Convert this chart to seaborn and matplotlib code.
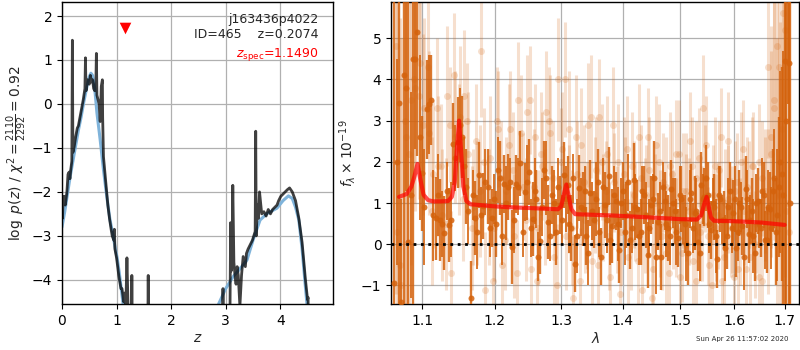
import numpy as np
import matplotlib
matplotlib.use("Agg")
import matplotlib.pyplot as plt
from matplotlib.ticker import NullLocator, FixedLocator, FixedFormatter
import seaborn as sns

# ---------------- data: left panel (redshift PDF) ----------------
pz_smooth_z = [0.0, 0.05, 0.1, 0.15, 0.2, 0.25, 0.3, 0.35, 0.4, 0.45, 0.5, 0.53, 0.56,
               0.6, 0.64, 0.7, 0.76, 0.82, 0.88, 0.93, 0.97, 1.01, 1.05, 1.09, 1.13]
pz_smooth_logp = [-2.8, -2.45, -2.05, -1.65, -1.3, -0.95, -0.6, -0.3, 0.05, 0.35, 0.62, 0.70, 0.65,
                  0.35, -0.2, -0.82, -1.5, -2.1, -2.64, -2.95, -3.24, -3.5, -3.84, -4.25, -4.65]
pz_smooth_z2 = [2.87, 3.0, 3.14, 3.26, 3.39, 3.5, 3.63, 3.75, 3.85, 3.94, 4.05, 4.15, 4.22,
                4.28, 4.34, 4.4, 4.46, 4.5]
pz_smooth_logp2 = [-4.55, -4.2, -3.92, -3.75, -3.55, -3.1, -2.64, -2.5, -2.43, -2.37, -2.2, -2.09, -2.15,
                   -2.35, -2.64, -3.3, -4.15, -4.7]

pz_z = [0.0, 0.01, 0.02, 0.035, 0.05, 0.06, 0.075, 0.09, 0.11, 0.13, 0.145, 0.16, 0.18, 0.19, 0.2,
        0.22, 0.25, 0.28, 0.3, 0.33, 0.36, 0.39, 0.42, 0.43, 0.44, 0.47, 0.5, 0.52, 0.54, 0.56,
        0.58, 0.6, 0.62, 0.63, 0.64, 0.66, 0.68, 0.7, 0.72, 0.74, 0.745, 0.76, 0.8, 0.84, 0.87,
        0.9, 0.92, 0.95, 0.96, 0.97, 1.0, 1.04, 1.08, 1.1, 1.13, 1.15, 1.17, 1.19, 1.21, 1.23,
        1.27, 1.28, 1.29, 1.57, 1.58, 1.59, 2.94, 2.95, 2.96, 3.06, 3.08, 3.09, 3.1, 3.12, 3.13,
        3.15, 3.17, 3.19, 3.21, 3.23, 3.26, 3.29, 3.32, 3.36, 3.38, 3.41, 3.45, 3.49, 3.54, 3.55,
        3.56, 3.58, 3.6, 3.62, 3.66, 3.7, 3.74, 3.78, 3.82, 3.86, 3.9, 3.94, 3.97, 4.01, 4.05,
        4.09, 4.13, 4.17, 4.22, 4.28, 4.34, 4.4, 4.46, 4.5, 4.51, 4.52]
pz_logp = [-2.1, -2.6, -2.1, -2.2, -2.1, -2.3, -2.15, -2.0, -1.6, -1.55, -1.7, -1.5, -1.3, 1.45, -1.1,
           -1.0, -0.75, -0.55, -0.5, -0.3, -0.1, 0.1, 0.35, 1.05, 0.3, 0.55, 0.45, 0.65, 0.5, 0.55,
           0.35, 0.3, 0.4, 1.15, 0.2, 0.1, 0.0, -0.4, 0.4, 0.55, -0.3, -1.2, -1.75, -2.3, -2.6,
           -2.85, -3.0, -3.1, -2.85, -3.3, -3.5, -3.9, -4.2, -4.2, -4.5, -4.3, -4.6, -3.5, -4.6, -5.5,
           -5.5, -3.9, -5.5, -5.5, -3.9, -5.5, -6.0, -4.2, -6.0, -6.0, -4.5, -2.7, -3.8, -2.9, -1.85,
           -3.6, -3.9, -4.1, -3.7, -3.9, -4.6, -3.9, -3.47, -3.7, -3.4, -3.3, -3.2, -3.1, -2.9, -0.62,
           -3.0, -2.3, -2.6, -2.0, -2.5, -2.45, -2.55, -2.4, -2.5, -2.4, -2.35, -2.3, -2.2, -2.1, -2.05,
           -2.0, -1.95, -1.91, -2.0, -2.2, -2.6, -3.15, -3.98, -4.45, -4.4, -6.0]

zspec = 1.149
zspec_marker_y = 1.72

# ---------------- data: right panel (spectrum) ----------------
lam_dark = [1.064, 1.070, 1.076, 1.082, 1.088, 1.094, 1.100, 1.106, 1.112, 1.118,
            1.124, 1.130, 1.136, 1.142, 1.148, 1.154, 1.160, 1.166, 1.172, 1.178,
            1.184, 1.190, 1.196, 1.202, 1.208, 1.214, 1.220, 1.226, 1.232, 1.238,
            1.244, 1.250, 1.256, 1.262, 1.268, 1.274, 1.280, 1.286, 1.292, 1.298,
            1.304, 1.310, 1.316, 1.322, 1.328, 1.334, 1.340, 1.346, 1.352, 1.358,
            1.364, 1.370, 1.376, 1.382, 1.388, 1.394, 1.400, 1.406, 1.412, 1.418,
            1.424, 1.430, 1.436, 1.442, 1.448, 1.454, 1.460, 1.466, 1.472, 1.478,
            1.484, 1.490, 1.496, 1.502, 1.508, 1.514, 1.520, 1.526, 1.532, 1.538,
            1.544, 1.550, 1.556, 1.562, 1.568, 1.574, 1.580, 1.586, 1.592, 1.598,
            1.604, 1.610, 1.616, 1.622, 1.628, 1.634, 1.640, 1.646, 1.652, 1.658,
            1.664, 1.670, 1.676, 1.682, 1.688, 1.694, 1.700, 1.706, 1.712]
flux_dark = [-0.95, 3.42, 4.10, 0.06, 4.49, 5.14, 1.72, 3.28, 3.50, 0.63,
             0.59, 0.27, 0.47, 2.43, 2.47, 2.61, 1.40, -1.31, 0.63, 1.68,
             0.92, 1.40, 0.63, 0.49, 1.60, 1.47, 1.40, -0.06, 1.47, 1.96,
             1.27, 1.75, 0.62, 1.10, 0.08, 1.81, 0.55, 1.20, 0.30, 0.95,
             1.68, 1.44, 0.40, -0.47, 1.36, 0.85, 0.20, 1.25, 0.60, 1.50,
             -0.30, 0.95, 1.65, 0.45, 1.05, -0.15, 1.30, 0.70, 0.10, 1.55,
             0.85, 0.30, 1.20, -0.25, 0.95, 1.60, 0.55, -0.30, 1.05, 0.40,
             1.35, 0.80, 0.15, 1.10, 0.50, -0.20, 1.25, 0.75, 0.05, 1.45,
             1.15, 1.20, 0.35, 0.90, -0.35, 1.10, 0.60, 0.20, 1.30, 0.75,
             -0.10, 1.00, 0.45, 1.35, 0.25, 0.80, -0.20, 1.05, 0.40, 1.20,
             0.10, 0.85, 1.30, 0.30, 1.40, 1.70, 4.45, 9.00, 1.00]
err_dark = [9.0, 9.0, 9.0, 9.0, 9.0, 3.0, 1.4, 1.2, 1.1, 1.0,
            1.0, 0.9, 0.9, 1.0, 1.1, 1.0, 0.9, 0.9, 0.9, 0.8,
            0.8, 0.9, 0.7, 0.8, 0.9, 0.7, 0.8, 0.9, 0.7, 0.8,
            0.7, 0.8, 0.9, 0.7, 0.8, 0.7, 0.9, 0.7, 0.8, 0.7,
            0.8, 0.7, 0.8, 0.7, 0.8, 0.9, 0.7, 0.8, 0.7, 0.8,
            0.7, 0.8, 0.7, 0.9, 0.7, 0.8, 0.7, 0.8, 0.7, 0.9,
            0.7, 0.8, 0.7, 0.8, 0.7, 0.9, 0.7, 0.8, 0.7, 0.8,
            0.7, 0.8, 0.7, 0.8, 0.7, 0.8, 0.7, 0.9, 0.7, 0.8,
            0.7, 0.8, 0.7, 0.8, 0.7, 0.8, 0.7, 0.8, 0.7, 0.8,
            0.7, 0.8, 0.7, 0.8, 0.7, 0.8, 0.7, 0.8, 0.7, 0.8,
            0.8, 0.9, 1.0, 1.3, 1.7, 2.6, 9.0, 5.6, 9.0]

lam_dark2 = [1.067, 1.073, 1.079, 1.085, 1.091, 1.097, 1.103, 1.109, 1.115, 1.121,
             1.127, 1.133, 1.139, 1.145, 1.151, 1.157, 1.163, 1.169, 1.175, 1.181,
             1.187, 1.193, 1.199, 1.205, 1.211, 1.217, 1.223, 1.229, 1.235, 1.241,
             1.247, 1.253, 1.259, 1.265, 1.271, 1.277, 1.283, 1.289, 1.295, 1.301,
             1.307, 1.313, 1.319, 1.325, 1.331, 1.337, 1.343, 1.349, 1.355, 1.361,
             1.367, 1.373, 1.379, 1.385, 1.391, 1.397, 1.403, 1.409, 1.415, 1.421,
             1.427, 1.433, 1.439, 1.445, 1.451, 1.457, 1.463, 1.469, 1.475, 1.481,
             1.487, 1.493, 1.499, 1.505, 1.511, 1.517, 1.523, 1.529, 1.535, 1.541,
             1.547, 1.553, 1.559, 1.565, 1.571, 1.577, 1.583, 1.589, 1.595, 1.601,
             1.607, 1.613, 1.619, 1.625, 1.631, 1.637, 1.643, 1.649, 1.655, 1.661,
             1.667, 1.673, 1.679, 1.685, 1.691, 1.697, 1.703, 1.709]
flux_dark2 = [2.0, -1.4, 3.8, 1.2, 4.5, 2.6, 0.9, 3.4, 0.7, 1.2,
              0.5, 1.3, 0.6, 2.1, 2.9, 1.9, 0.8, 1.2, 0.3, 0.7,
              1.5, 0.4, 1.1, 1.8, 0.2, 1.0, 1.5, 0.6, 1.4, 0.3,
              1.5, 0.4, 1.3, -0.3, 0.9, 1.6, 0.2, 1.0, 1.4, 0.6,
              1.1, 0.5, 1.6, 0.2, 0.9, 1.3, -0.2, 0.8, 1.1, 0.3,
              1.4, 0.6, 0.1, 1.2, 0.5, 1.0, 0.3, 1.5, 0.4, 0.9,
              0.2, 1.3, 0.7, 0.4, 1.1, -0.3, 0.8, 1.4, 0.5, 0.2,
              1.0, 0.3, 1.2, 0.6, 0.0, 1.1, 0.4, 0.8, -0.2, 1.1,
              1.6, 0.5, 1.0, 0.2, 1.2, 0.6, -0.1, 0.9, 0.4, 1.1,
              0.3, 0.9, -0.3, 1.1, 0.6, 0.2, 1.0, 0.5, 1.3, 0.1,
              0.9, 0.4, 1.6, 0.7, 2.0, 1.2, 3.0, 4.4]
err_dark2 = [2.5, 2.5, 2.5, 2.5, 2.2, 2.0, 1.4, 1.2, 1.1, 1.0,
             0.8, 0.7, 0.9, 0.8, 0.9, 0.7, 0.8, 0.6, 0.9, 0.7,
             0.8, 0.7, 0.6, 0.8, 0.7, 0.9, 0.6, 0.8, 0.7, 0.6,
             0.9, 0.7, 0.8, 0.6, 0.7, 0.9, 0.6, 0.8, 0.7, 0.6,
             0.8, 0.7, 0.6, 0.9, 0.7, 0.6, 0.8, 0.7, 0.9, 0.6,
             0.7, 0.8, 0.6, 0.7, 0.9, 0.6, 0.8, 0.7, 0.6, 0.8,
             0.7, 0.6, 0.8, 0.7, 0.6, 0.9, 0.7, 0.6, 0.8, 0.7,
             0.6, 0.8, 0.7, 0.6, 0.9, 0.7, 0.6, 0.8, 0.7, 0.6,
             0.8, 0.7, 0.6, 0.9, 0.7, 0.6, 0.8, 0.7, 0.6, 0.8,
             0.7, 0.6, 0.8, 0.7, 0.6, 0.9, 0.7, 0.6, 0.8, 0.7,
             0.9, 1.0, 1.2, 1.6, 2.2, 3.5, 6.0, 9.0]

lam_light = [1.067, 1.073, 1.079, 1.085, 1.091, 1.097, 1.103, 1.109, 1.115, 1.121,
             1.127, 1.133, 1.139, 1.145, 1.151, 1.157, 1.163, 1.169, 1.175, 1.181,
             1.187, 1.193, 1.199, 1.205, 1.211, 1.217, 1.223, 1.229, 1.235, 1.241,
             1.247, 1.253, 1.259, 1.265, 1.271, 1.277, 1.283, 1.289, 1.295, 1.301,
             1.307, 1.313, 1.319, 1.325, 1.331, 1.337, 1.343, 1.349, 1.355, 1.361,
             1.367, 1.373, 1.379, 1.385, 1.391, 1.397, 1.403, 1.409, 1.415, 1.421,
             1.427, 1.433, 1.439, 1.445, 1.451, 1.457, 1.463, 1.469, 1.475, 1.481,
             1.487, 1.493, 1.499, 1.505, 1.511, 1.517, 1.523, 1.529, 1.535, 1.541,
             1.547, 1.553, 1.559, 1.565, 1.571, 1.577, 1.583, 1.589, 1.595, 1.601,
             1.607, 1.613, 1.619, 1.625, 1.631, 1.637, 1.643, 1.649, 1.655, 1.661,
             1.667, 1.673, 1.679, 1.685, 1.691, 1.697, 1.703, 1.709]
flux_light = [0.3, -1.0, 2.6, 3.5, 3.8, 4.4, 3.3, 2.7, 1.7, 1.9,
              0.7, 3.6, -0.7, 2.6, 3.1, 3.6, 2.2, 0.9, 1.0, 4.7,
              -1.1, 2.1, 0.4, 2.8, -0.5, 1.3, 2.8, 0.2, 3.5, 1.4,
              3.2, -0.6, 2.6, 0.4, 1.9, 3.2, 2.7, -0.3, 4.0, 2.3,
              0.2, 2.8, -1.3, 1.7, 2.4, 0.6, 2.9, -0.4, 1.8, 3.1,
              0.9, 2.2, -0.8, 1.5, 2.0, 0.3, 1.4, -0.3, 1.9, 0.8,
              2.6, -1.1, 1.2, 1.8, -0.6, 2.4, 0.5, 1.5, -0.2, 1.9,
              0.6, 2.2, -0.8, 1.3, 0.9, 2.5, -0.4, 1.6, 0.3, 3.3,
              2.4, -0.5, 1.2, 0.4, 1.8, -0.9, 1.0, 2.5, 0.6, 1.3,
              -0.6, 2.0, 0.8, 1.4, -0.3, 1.9, 0.5, -0.8, 1.6, 1.1,
              4.3, 2.6, 3.3, 4.8, 1.2, 5.6, 0.8, 0.3]
err_light = [6.0, 6.0, 5.0, 4.0, 3.0, 2.5, 2.2, 2.0, 1.8, 1.7,
             1.6, 1.7, 1.5, 1.6, 1.7, 1.6, 1.5, 1.4, 1.5, 1.6,
             1.4, 1.5, 1.3, 1.4, 1.5, 1.3, 1.4, 1.5, 1.4, 1.3,
             1.4, 1.5, 1.3, 1.4, 1.3, 1.5, 1.4, 1.3, 1.5, 1.4,
             1.3, 1.4, 1.5, 1.3, 1.4, 1.3, 1.5, 1.4, 1.3, 1.4,
             1.3, 1.4, 1.3, 1.2, 1.4, 1.3, 1.2, 1.4, 1.3, 1.2,
             1.3, 1.4, 1.2, 1.3, 1.4, 1.2, 1.3, 1.2, 1.4, 1.3,
             1.2, 1.3, 1.2, 1.4, 1.3, 1.2, 1.3, 1.4, 1.2, 1.3,
             1.2, 1.3, 1.2, 1.3, 1.2, 1.4, 1.3, 1.2, 1.3, 1.2,
             1.3, 1.2, 1.3, 1.2, 1.4, 1.3, 1.2, 1.3, 1.4, 1.5,
             2.2, 2.7, 3.2, 3.7, 4.2, 5.0, 6.0, 6.0]

lam_light2 = [1.0655, 1.0715, 1.0775, 1.0835, 1.0895, 1.0955, 1.1015, 1.1075, 1.1135, 1.1195,
              1.1255, 1.1315, 1.1375, 1.1435, 1.1495, 1.1555, 1.1615, 1.1675, 1.1735, 1.1795,
              1.1855, 1.1915, 1.1975, 1.2035, 1.2095, 1.2155, 1.2215, 1.2275, 1.2335, 1.2395,
              1.2455, 1.2515, 1.2575, 1.2635, 1.2695, 1.2755, 1.2815, 1.2875, 1.2935, 1.2995,
              1.3055, 1.3115, 1.3175, 1.3235, 1.3295, 1.3355, 1.3415, 1.3475, 1.3535, 1.3595,
              1.3655, 1.3715, 1.3775, 1.3835, 1.3895, 1.3955, 1.4015, 1.4075, 1.4135, 1.4195,
              1.4255, 1.4315, 1.4375, 1.4435, 1.4495, 1.4555, 1.4615, 1.4675, 1.4735, 1.4795,
              1.4855, 1.4915, 1.4975, 1.5035, 1.5095, 1.5155, 1.5215, 1.5275, 1.5335, 1.5395,
              1.5455, 1.5515, 1.5575, 1.5635, 1.5695, 1.5755, 1.5815, 1.5875, 1.5935, 1.5995,
              1.6055, 1.6115, 1.6175, 1.6235, 1.6295, 1.6355, 1.6415, 1.6475, 1.6535, 1.6595,
              1.6655, 1.6715, 1.6775, 1.6835, 1.6895, 1.6955, 1.7015, 1.7075]
flux_light2 = [4.8, -0.5, 3.0, 2.2, 4.0, 3.6, 2.9, 4.3, 0.8, 3.3,
               1.9, 0.5, 2.9, 4.1, 2.3, 1.1, 3.0, 0.4, 2.5, 1.3,
               2.0, 0.9, -0.9, 3.0, 1.6, 0.1, 2.4, 1.8, -0.7, 2.7,
               0.6, 3.5, 1.4, -0.9, 2.2, 0.9, 3.0, 1.6, -1.0, 2.0,
               4.0, 1.1, 0.4, 2.6, -0.9, 1.5, 0.7, 3.1, 1.2, -0.5,
               2.0, 1.3, 0.2, 2.9, 0.6, -1.2, 1.7, 2.3, 0.1, 1.2,
               -0.4, 1.6, 0.7, 2.6, -1.3, 1.0, 2.0, 0.2, 1.4, -0.7,
               1.7, 0.4, 2.2, -0.2, 1.3, 0.8, 1.9, -0.9, 2.1, 0.5,
               1.6, 0.2, -1.0, 1.9, 0.7, 2.6, -0.3, 1.1, 0.4, -0.8,
               1.5, 0.3, 2.3, -0.6, 1.2, 1.9, 0.0, 2.0, -0.9, 1.3,
               0.8, 2.2, 3.5, 1.5, 4.3, 2.8, 5.2, 1.0]
err_light2 = [6.0, 6.0, 5.0, 4.0, 3.0, 2.5, 2.2, 2.0, 1.8, 1.7,
              1.5, 1.6, 1.4, 1.5, 1.6, 1.5, 1.4, 1.5, 1.4, 1.6,
              1.3, 1.4, 1.5, 1.3, 1.4, 1.2, 1.5, 1.4, 1.3, 1.4,
              1.5, 1.3, 1.4, 1.3, 1.5, 1.4, 1.3, 1.4, 1.5, 1.3,
              1.4, 1.3, 1.4, 1.5, 1.3, 1.4, 1.3, 1.5, 1.4, 1.3,
              1.4, 1.2, 1.3, 1.4, 1.3, 1.2, 1.4, 1.3, 1.2, 1.3,
              1.2, 1.3, 1.4, 1.2, 1.3, 1.2, 1.4, 1.3, 1.2, 1.3,
              1.3, 1.2, 1.3, 1.2, 1.4, 1.3, 1.2, 1.3, 1.2, 1.4,
              1.3, 1.2, 1.3, 1.2, 1.3, 1.2, 1.4, 1.3, 1.2, 1.3,
              1.2, 1.3, 1.2, 1.4, 1.3, 1.2, 1.3, 1.4, 1.3, 1.5,
              2.0, 2.5, 3.0, 3.5, 4.0, 5.0, 6.0, 6.0]

model_lam = [1.070, 1.080, 1.086, 1.090, 1.094, 1.098, 1.102, 1.108, 1.115, 1.125, 1.135, 1.140,
             1.144, 1.147, 1.150, 1.153, 1.156, 1.160, 1.166, 1.180, 1.200, 1.220, 1.250, 1.280,
             1.295, 1.300, 1.304, 1.308, 1.312, 1.316, 1.322, 1.340, 1.380, 1.420, 1.460, 1.500,
             1.530, 1.538, 1.543, 1.548, 1.552, 1.556, 1.562, 1.600, 1.650, 1.700]
model_flux = [1.15, 1.22, 1.40, 1.65, 1.95, 1.55, 1.20, 1.07, 1.04, 1.04, 1.05, 1.15,
              1.50, 2.30, 3.00, 2.20, 1.40, 1.05, 0.97, 0.95, 0.92, 0.90, 0.88, 0.86,
              0.85, 0.92, 1.20, 1.45, 1.15, 0.85, 0.73, 0.72, 0.70, 0.67, 0.64, 0.61,
              0.60, 0.70, 0.95, 1.15, 0.90, 0.65, 0.57, 0.56, 0.53, 0.47]

lam_ticks = [1.1, 1.2, 1.3, 1.4, 1.5, 1.6, 1.7]
lam_tick_labels = ['1.1', '1.2', '1.3', '1.4', '1.5', '1.6', '1.7']

label_root = 'j163436p4022'
label_id = 'ID=465    z=0.2074'
label_zspec = r'$z_\mathrm{spec}$=1.1490'
timestamp = 'Sun Apr 26 11:57:02 2020'

# ---------------- plotting ----------------
sns.set_style('ticks')
plt.rcParams['font.family'] = ['DejaVu Sans']
plt.rcParams['font.size'] = 10
plt.rcParams['axes.edgecolor'] = 'black'
plt.rcParams['xtick.color'] = 'black'
plt.rcParams['ytick.color'] = 'black'

fig = plt.figure(figsize=(8, 3.5), dpi=100)
ax1 = fig.add_axes([0.0775, 0.1314, 0.339, 0.863])
ax2 = fig.add_axes([0.489, 0.1314, 0.51, 0.863])

for ax in (ax1, ax2):
    ax.grid(True, color='#b0b0b0', lw=0.9)
    ax.set_axisbelow(True)
    ax.tick_params(direction='out', length=3.5, width=0.8, labelsize=10)
    for s in ax.spines.values():
        s.set_linewidth(1.0)
        s.set_color('black')

# left panel
sns.lineplot(x=pz_smooth_z, y=pz_smooth_logp, ax=ax1, color='#7fb3da', lw=2.2, sort=False)
sns.lineplot(x=pz_smooth_z2, y=pz_smooth_logp2, ax=ax1, color='#7fb3da', lw=2.2, sort=False)
sns.lineplot(x=pz_z, y=pz_logp, ax=ax1, color='black', lw=2.0, alpha=0.75, sort=False)
ax1.scatter([zspec], [zspec_marker_y], marker='v', color='red', s=70, zorder=5, lw=0)
ax1.set_xlim(0, 4.97)
ax1.set_ylim(-4.55, 2.32)
ax1.set_xticks([0, 1, 2, 3, 4])
ax1.set_yticks([-4, -3, -2, -1, 0, 1, 2])
ax1.set_xlabel(r'$z$', labelpad=2)
ax1.set_ylabel(r'$\log\ p(z)$ / $\chi^2=\frac{2110}{2292}=0.92$', labelpad=2)
ax1.text(0.945, 0.965, label_root, transform=ax1.transAxes, ha='right', va='top', fontsize=9)
ax1.text(0.945, 0.915, label_id, transform=ax1.transAxes, ha='right', va='top', fontsize=9)
ax1.text(0.945, 0.855, label_zspec, transform=ax1.transAxes, ha='right', va='top', fontsize=9, color='red')

# right panel
ocol = '#d4620c'
ax2.errorbar(lam_light, flux_light, yerr=err_light, fmt='o', color=ocol, alpha=0.2,
             ms=5, elinewidth=2.2, capsize=0, mew=0, zorder=2)
ax2.errorbar(lam_light2, flux_light2, yerr=err_light2, fmt='o', color=ocol, alpha=0.2,
             ms=5, elinewidth=2.2, capsize=0, mew=0, zorder=2)
ax2.errorbar(lam_dark, flux_dark, yerr=err_dark, fmt='o', color=ocol, alpha=0.85,
             ms=4.3, elinewidth=1.7, capsize=0, mew=0, zorder=3)
ax2.errorbar(lam_dark2, flux_dark2, yerr=err_dark2, fmt='o', color=ocol, alpha=0.85,
             ms=4.3, elinewidth=1.4, capsize=0, mew=0, zorder=3)
sns.lineplot(x=model_lam, y=model_flux, ax=ax2, color='red', lw=3, alpha=0.7, sort=False, zorder=4)
ax2.axhline(0, color='black', ls=':', lw=2, zorder=5)
ax2.set_xscale('log')
ax2.set_xlim(1.06, 1.73)
ax2.set_ylim(-1.45, 5.88)
ax2.xaxis.set_major_locator(FixedLocator(lam_ticks))
ax2.xaxis.set_major_formatter(FixedFormatter(lam_tick_labels))
ax2.xaxis.set_minor_locator(NullLocator())
ax2.set_yticks([-1, 0, 1, 2, 3, 4, 5])
ax2.set_xlabel(r'$\lambda$', labelpad=2)
ax2.set_ylabel(r'$f_\lambda\times10^{-19}$', labelpad=2)

fig.text(0.985, 0.022, timestamp, ha='right', va='bottom', fontsize=5)

fig.savefig('out.png', dpi=100)
